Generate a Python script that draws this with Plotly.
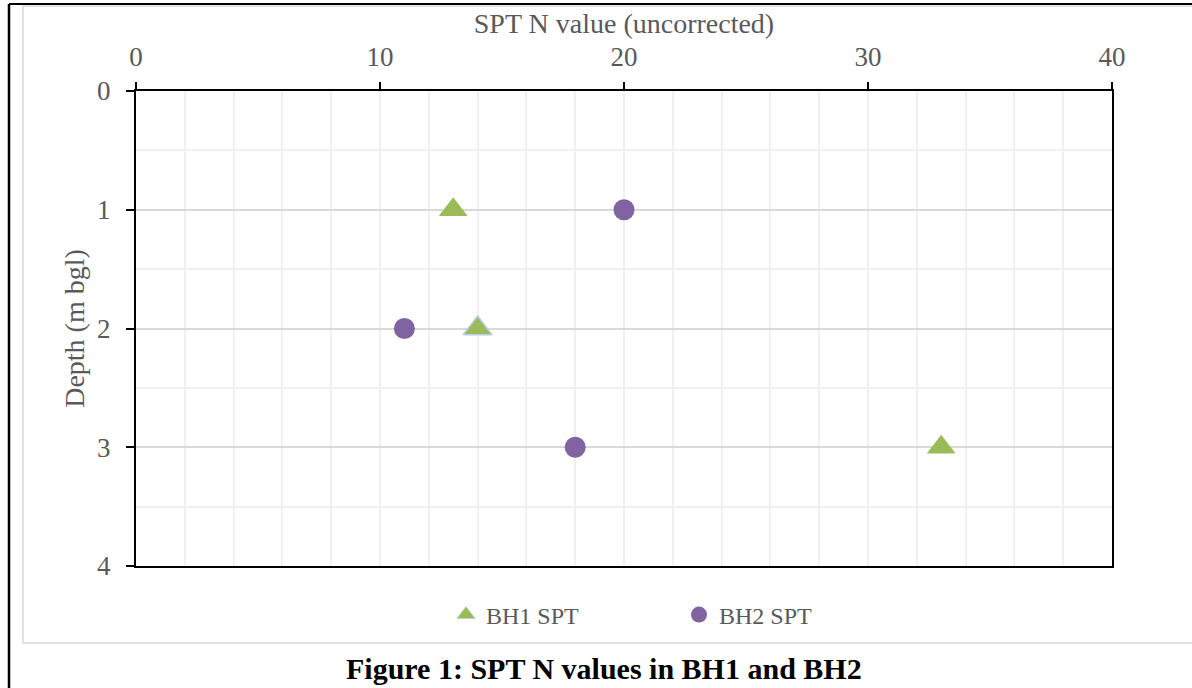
import plotly.graph_objects as go

# ---- data ----
bh1_n = [13, 14, 33]
bh1_depth = [1, 2, 3]
bh2_n = [20, 11, 18]
bh2_depth = [1, 2, 3]
x_tick_vals = [0, 10, 20, 30, 40]
y_tick_vals = [0, 1, 2, 3, 4]
series_names = ["BH1 SPT", "BH2 SPT"]
x_title = "SPT N value (uncorrected)"
y_title = "Depth (m bgl)"
caption = "Figure 1: SPT N values in BH1 and BH2"

W, H = 1192, 688
L, R, T, B = 136, 80, 91, 122
pw, ph = W - L - R, H - T - B

def px(x):
    return (x - L) / pw

def py(y):
    return (H - B - y) / ph

FONT = "Liberation Serif"
GREY = "#595959"

fig = go.Figure()
fig.add_trace(go.Scatter(
    x=bh1_n, y=bh1_depth, mode="markers", name=series_names[0],
    marker=dict(symbol="triangle-up", size=25, color="#9BBB59",
                line=dict(width=[0, 1.5, 0], color="#B9CDE5")),
))
fig.add_trace(go.Scatter(
    x=bh2_n, y=bh2_depth, mode="markers", name=series_names[1],
    marker=dict(symbol="circle", size=21, color="#8064A2", line=dict(width=0)),
))

fig.update_layout(
    width=W, height=H,
    margin=dict(l=L, r=R, t=T, b=B),
    paper_bgcolor="white", plot_bgcolor="white",
    font=dict(family=FONT, size=24, color=GREY),
    showlegend=True,
    legend=dict(orientation="h", x=px(446), xanchor="left", y=py(615), yanchor="middle",
                font=dict(family=FONT, size=24, color=GREY), entrywidth=188,
                bgcolor="rgba(0,0,0,0)"),
    xaxis=dict(
        side="top", range=[0, 40], tickvals=x_tick_vals,
        showline=True, linecolor="black", linewidth=2, mirror=True,
        ticks="outside", ticklen=7, tickcolor="black", tickwidth=2,
        showgrid=True, gridcolor="#F0F0F0", gridwidth=1.5,
        minor=dict(dtick=2, showgrid=True, gridcolor="#F0F0F0", gridwidth=1.5),
        zeroline=False,
        tickfont=dict(family=FONT, size=27, color=GREY),
        ticklabelstandoff=5,
        title=dict(text=x_title, font=dict(family=FONT, size=28, color=GREY), standoff=0),
    ),
    yaxis=dict(
        range=[4, 0], tickvals=y_tick_vals,
        showline=True, linecolor="black", linewidth=2, mirror=True,
        ticks="outside", ticklen=8, tickcolor="black", tickwidth=2,
        showgrid=True, gridcolor="#D9D9D9", gridwidth=1.5,
        minor=dict(dtick=0.5, showgrid=True, gridcolor="#F0F0F0", gridwidth=1.5),
        zeroline=False,
        tickfont=dict(family=FONT, size=27, color=GREY),
        ticklabelstandoff=10,
        title=dict(text=y_title, font=dict(family=FONT, size=28, color=GREY), standoff=4),
    ),
    shapes=[
        dict(type="rect", xref="paper", yref="paper",
             x0=px(23), x1=px(1210), y0=py(643), y1=py(6),
             line=dict(color="#D9D9D9", width=1.5), fillcolor="rgba(0,0,0,0)", layer="below"),
        dict(type="line", xref="paper", yref="paper",
             x0=px(9), x1=px(1210), y0=py(4), y1=py(4),
             line=dict(color="black", width=2)),
        dict(type="line", xref="paper", yref="paper",
             x0=px(9), x1=px(9), y0=py(4), y1=py(700),
             line=dict(color="black", width=2.5)),
    ],
    annotations=[
        dict(text="<b>" + caption + "</b>", xref="paper", yref="paper",
             x=px(604), y=py(668), xanchor="center", yanchor="middle", showarrow=False,
             font=dict(family=FONT, size=30, color="black")),
    ],
)

fig.write_html("out.html", config={"displayModeBar": False},
               post_script="document.body.style.margin='0';document.body.style.overflow='hidden';")
